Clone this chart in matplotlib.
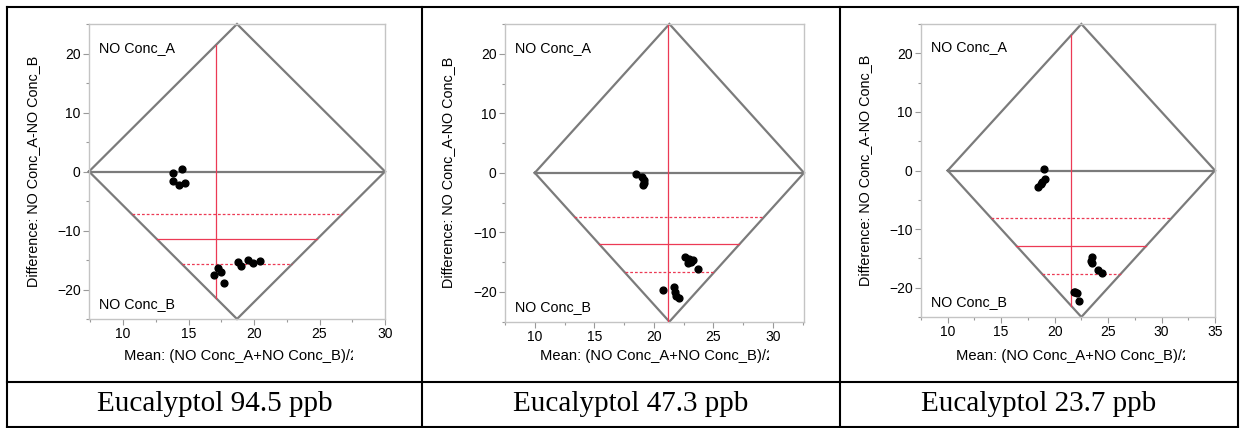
import numpy as np
import matplotlib.pyplot as plt
from matplotlib.lines import Line2D
from matplotlib.patches import Rectangle

plt.rcParams['font.family'] = ['Liberation Sans', 'DejaVu Sans']

W, H = 1244, 428

captions = ['Eucalyptol 94.5 ppb', 'Eucalyptol 47.3 ppb', 'Eucalyptol 23.7 ppb']
x_limits = [(7.4, 30), (10, 32.6), (10, 35)]
x_ticks = [[10, 15, 20, 25, 30], [10, 15, 20, 25, 30], [10, 15, 20, 25, 30, 35]]
y_ticks = [-20, -10, 0, 10, 20]

# mean (A+B)/2 and difference A-B
mean_94 = [13.83, 14.52, 13.83, 14.29, 14.75, 17.27, 17.45, 16.96, 17.70,
           18.80, 18.98, 19.56, 19.95, 20.43]
diff_94 = [-0.17, 0.44, -1.59, -2.32, -2.03, -16.34, -17.0, -17.58, -18.98,
           -15.32, -16.05, -15.08, -15.59, -15.25]

mean_47 = [18.51, 19.02, 19.14, 19.14, 19.09, 20.73, 21.69, 21.80, 21.87,
           22.07, 22.58, 22.95, 23.13, 23.26, 22.85, 23.71]
diff_47 = [-0.17, -0.67, -1.22, -1.68, -2.06, -19.65, -19.2, -19.93, -20.6,
           -21.04, -14.12, -14.5, -14.9, -14.6, -15.2, -16.08]

mean_23 = [19.0, 19.14, 18.86, 18.72, 18.44, 23.53, 23.39, 23.47, 24.1,
           24.44, 21.83, 22.11, 22.26, 21.95]
diff_23 = [0.22, -1.48, -2.04, -2.38, -2.79, -14.69, -15.37, -15.71, -16.96,
           -17.52, -20.65, -20.92, -22.35, -20.8]

means = [mean_94, mean_47, mean_23]
diffs = [diff_94, diff_47, diff_23]

# red reference lines: mean of means, mean difference, 95% CI of difference
grand_mean = [17.1, 21.21, 21.56]
mean_diff = [-11.47, -12.01, -12.86]
ci_low = [-15.7, -16.7, -17.62]
ci_high = [-7.23, -7.37, -8.16]

# axes boxes in pixels: left, top, right, bottom
boxes = [(89, 24, 385, 319), (505, 24, 804, 321.7), (921, 24, 1215, 317)]

fig = plt.figure(figsize=(W / 100, H / 100), dpi=100)

gray = '#7b7b7b'
red = '#ec3a55'
ylim = 25

for i in range(3):
    l, t, r, b = boxes[i]
    ax = fig.add_axes([l / W, 1 - b / H, (r - l) / W, (b - t) / H])
    x0, x1 = x_limits[i]
    xc = (x0 + x1) / 2
    hw = (x1 - x0) / 2

    # diamond and zero line
    ax.plot([x0, xc, x1, xc, x0], [0, ylim, 0, -ylim, 0], color=gray, lw=1.6,
            solid_joinstyle='miter', clip_on=False, zorder=2)
    ax.plot([x0, x1], [0, 0], color=gray, lw=1.6, clip_on=False, zorder=2)

    # red lines clipped to the diamond
    gm = grand_mean[i]
    yh = ylim * (1 - abs(gm - xc) / hw)
    ax.plot([gm, gm], [-yh, yh], color=red, lw=0.9, zorder=3)
    for yv, ls in [(mean_diff[i], '-'), (ci_low[i], (0, (2.2, 1.6))),
                   (ci_high[i], (0, (2.2, 1.6)))]:
        xh = hw * (1 - abs(yv) / ylim)
        ax.plot([xc - xh, xc + xh], [yv, yv], color=red, lw=0.9, ls=ls, zorder=3)

    ax.plot(means[i], diffs[i], 'o', color='black', ms=4.9, zorder=4)

    ax.set_xlim(x0, x1)
    ax.set_ylim(-ylim, ylim)
    ax.set_xticks(x_ticks[i])
    ax.set_xticks(np.arange(7.5, x1 + 0.01, 2.5), minor=True)
    ax.set_yticks(y_ticks)
    ax.set_yticks(np.arange(-25, 26, 5), minor=True)
    ax.tick_params(which='major', direction='out', length=4, width=0.8,
                   color='#999999', labelsize=10, pad=2)
    ax.tick_params(which='minor', direction='out', length=2.5, width=0.8,
                   color='#999999')
    for s in ax.spines.values():
        s.set_color('#c4c4c4')
        s.set_linewidth(1.0)

    ax.text(0.034, 0.92, 'NO Conc_A', transform=ax.transAxes, fontsize=10.3,
            va='center', ha='left')
    ax.text(0.034, 0.05, 'NO Conc_B', transform=ax.transAxes, fontsize=10.3,
            va='center', ha='left')

    ax.set_ylabel('Difference: NO Conc_A-NO Conc_B', fontsize=10.4)
    ax.yaxis.set_label_coords(-0.166, 0.5)

    # x label is cut off at the right, as in the source
    fig.text((l + 35) / W, 1 - 356 / H, 'Mean: (NO Conc_A+NO Conc_B)/2',
             fontsize=10.6, ha='left', va='center', zorder=3)
    fig.add_artist(Rectangle(((l + 264) / W, 1 - 366 / H), 16 / W, 20 / H,
                             transform=fig.transFigure, facecolor='white',
                             edgecolor='none', zorder=5))

# table grid
lw = 1.5
cols = [7, 422, 840, 1238]
top, mid, bot = 7, 382, 427
for xv in cols:
    fig.add_artist(Line2D([xv / W, xv / W], [1 - top / H, 1 - bot / H],
                          color='black', lw=lw, zorder=6))
for yv in [top, mid, bot]:
    fig.add_artist(Line2D([cols[0] / W, cols[-1] / W], [1 - yv / H, 1 - yv / H],
                          color='black', lw=lw, zorder=6))

for i in range(3):
    cx = (cols[i] + cols[i + 1]) / 2
    fig.text(cx / W, 1 - 404 / H, captions[i], fontsize=21, ha='center',
             va='center', family=['Liberation Serif', 'DejaVu Serif'])

fig.savefig('out.png', dpi=100)
